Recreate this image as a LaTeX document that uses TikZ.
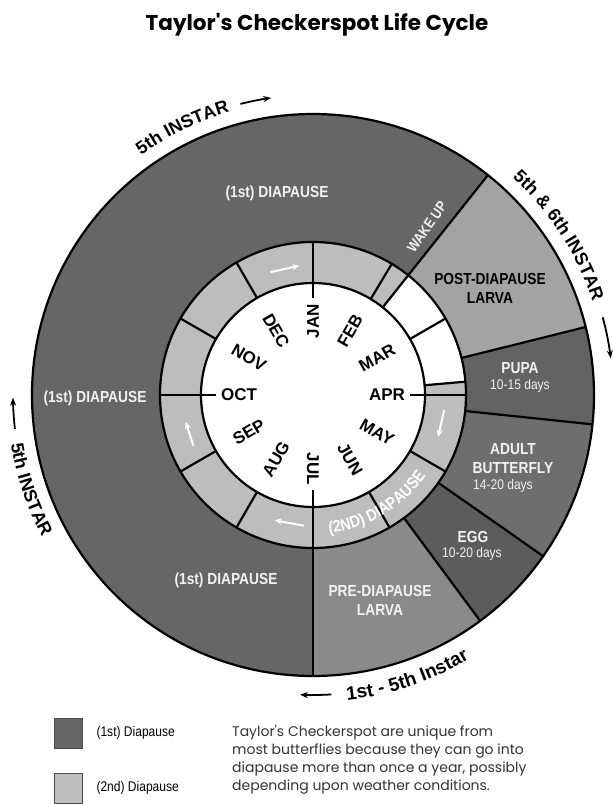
\documentclass[tikz,border=0pt]{standalone}
\usepackage{fontspec}
\setmainfont{Liberation Sans}
\newfontfamily\narrowfont[FakeStretch=0.86]{Liberation Sans}
\newfontfamily\titlefont{Poppins}
\usetikzlibrary{arrows.meta,decorations.text}

\definecolor{firstdia}{gray}{0.40}
\definecolor{seconddia}{gray}{0.74}
\definecolor{postlarva}{gray}{0.64}
\definecolor{pupa}{gray}{0.39}
\definecolor{adult}{gray}{0.43}
\definecolor{egg}{gray}{0.36}
\definecolor{prelarva}{gray}{0.54}
\definecolor{paler}{gray}{0.95}

\newcommand*\Rhub{112pt}
\newcommand*\Rring{153pt}
\newcommand*\Rout{281pt}

% one piece of a ring: colour, from, to, inner radius, outer radius
\newcommand\ringpiece[5]{%
  \fill[#1] (#2:#4) arc[start angle=#2, end angle=#3, radius=#4]
    -- (#3:#5) arc[start angle=#3, end angle=#2, radius=#5] -- cycle;}

\newcommand\arcfont{\bfseries\fontsize{18}{18}\selectfont}

\tikzset{
  rule/.style={line width=2.2pt, black},
  month/.style={font=\bfseries\fontsize{17}{17}\selectfont, inner sep=0pt},
  stage/.style={font=\narrowfont\bfseries\fontsize{16}{19}\selectfont, text=paler, align=center, inner sep=0pt},
  days/.style={font=\narrowfont\fontsize{14}{16}\selectfont, text=paler, inner sep=0pt},
  flow/.style={white, line width=2pt, -{Stealth[length=7pt,width=6pt]}},
  instar/.style={line width=1.8pt, -{Stealth[length=8pt,width=6pt]}},
  key/.style={draw=black!70, line width=1pt, minimum width=28pt, minimum height=30pt, inner sep=0pt},
}

\begin{document}
\begin{tikzpicture}[x=1pt, y=1pt]
  \useasboundingbox[fill=white] (-313,-409) rectangle (300,395);

  \node[font=\titlefont\bfseries\fontsize{21.5}{21.5}\selectfont] (title) at (4,370) {Taylor's Checkerspot Life Cycle};

  % outer band: stages
  \ringpiece{firstdia}{51.5}{270}{\Rring}{\Rout}
  \ringpiece{postlarva}{14}{51.5}{\Rring}{\Rout}
  \ringpiece{pupa}{-6}{14}{\Rring}{\Rout}
  \ringpiece{adult}{-35}{-6}{\Rring}{\Rout}
  \ringpiece{egg}{-53.5}{-35}{\Rring}{\Rout}
  \ringpiece{prelarva}{-90}{-53.5}{\Rring}{\Rout}

  % month ring
  \ringpiece{seconddia}{51.5}{365}{\Rhub}{\Rring}
  \fill[white] (0,0) circle[radius=\Rhub];

  \draw[rule] (0,0) circle[radius=\Rout];
  \draw[rule] (0,0) circle[radius=\Rring];
  \draw[rule] (0,0) circle[radius=\Rhub];
  \foreach \a in {51.5,14,-6,-35,-53.5}
    \draw[rule] (\a:\Rring) -- (\a:\Rout);
  \foreach \a in {120,150,210,240,300,330,5,30,59,51.5}
    \draw[rule] (\a:\Rhub) -- (\a:\Rring);
  \foreach \a in {90,180,0}
    \draw[rule] (\a:97pt) -- (\a:\Rring);
  \draw[rule] (-90:95pt) -- (-90:\Rout);

  % months
  \foreach \m [count=\k from 0] in {JAN,FEB,MAR,APR,MAY,JUN,JUL,AUG,SEP,OCT,NOV,DEC}{
    \pgfmathsetmacro\ang{90-30*\k}
    \pgfmathsetmacro\rot{\k<7 ? 90-30*\k : 270-30*\k}
    \node[month, rotate=\rot] (m-\m) at (\ang:74pt) {\m};
  }

  % flow arrows in the ring
  \draw[flow] (109:130pt) -- (96:130pt);
  \draw[flow] (203:130pt) -- (192:130pt);
  \draw[flow] (266:131pt) -- (253:131pt);
  \draw[flow] (-6.5:132pt) -- (-18.5:132pt);
  \path[decorate, decoration={text along path, text align=center, text color=white,
      text={|\narrowfont\bfseries\fontsize{16.5}{16.5}\selectfont|(2ND) DIAPAUSE}}]
    (-95:139pt) arc[start angle=-95, end angle=-24, radius=139pt];

  % stage labels
  \node[stage] (dia-top) at (-36,202) {(1st) DIAPAUSE};
  \node[stage] (dia-left) at (-218,-3) {(1st) DIAPAUSE};
  \node[stage] (dia-low) at (-87,-185) {(1st) DIAPAUSE};
  \node[stage, font=\narrowfont\bfseries\fontsize{14.5}{14.5}\selectfont, rotate=55] (wake) at (114,168) {WAKE UP};
  \node[stage, text=black] (post) at (177,107) {POST-DIAPAUSE\\LARVA};
  \node[stage] (pupa) at (207,27) {PUPA};
  \node[days] (pupa-d) at (207,9) {10-15 days};
  \node[stage] (adult) at (200,-64) {ADULT\\BUTTERFLY};
  \node[days] (adult-d) at (190,-91) {14-20 days};
  \node[stage] (egg) at (160,-142) {EGG};
  \node[days] (egg-d) at (159,-159) {10-20 days};
  \node[stage] (pre) at (67,-205) {PRE-DIAPAUSE\\LARVA};

  % instars round the outside
  \path[decorate, decoration={text along path, text align=center, text={|\arcfont|5th INSTAR}}]
    (132:295pt) arc[start angle=132, end angle=100, radius=295pt];
  \draw[instar] (104:300pt) arc[start angle=104, end angle=98, radius=300pt];
  \path[decorate, decoration={text along path, text align=center, text={|\arcfont|5th {\&} 6th INSTAR}}]
    (56:295pt) arc[start angle=56, end angle=10, radius=295pt];
  \draw[instar] (15:300pt) arc[start angle=15, end angle=7, radius=300pt];
  \path[decorate, decoration={text along path, text align=center, text={|\bfseries\fontsize{19}{19}\selectfont|1st - 5th Instar}}]
    (-88:307pt) arc[start angle=-88, end angle=-55, radius=307pt];
  \draw[instar] (-86.5:300pt) arc[start angle=-86.5, end angle=-92.5, radius=300pt];
  \path[decorate, decoration={text along path, text align=center, text={|\arcfont|5th INSTAR}}]
    (186:306pt) arc[start angle=186, end angle=211, radius=306pt];
  \draw[instar] (186.5:300pt) arc[start angle=186.5, end angle=180.5, radius=300pt];

  % key
  \node[key, fill=firstdia] (key1) at (-244,-338) {};
  \node[key, fill=seconddia] (key2) at (-244,-393) {};
  \node[font=\narrowfont\fontsize{14}{14}\selectfont, anchor=west] (key1-t) at (-220,-338) {(1st) Diapause};
  \node[font=\narrowfont\fontsize{14}{14}\selectfont, anchor=west] (key2-t) at (-220,-393) {(2nd) Diapause};
  \node[font=\titlefont\fontsize{14}{18}\selectfont, text=black!80, align=left, anchor=north west, inner sep=0pt] (note) at (-81,-330)
    {Taylor's Checkerspot are unique from\\most butterflies because they can go into\\diapause more than once a year, possibly\\depending upon weather conditions.};
\end{tikzpicture}
\end{document}
